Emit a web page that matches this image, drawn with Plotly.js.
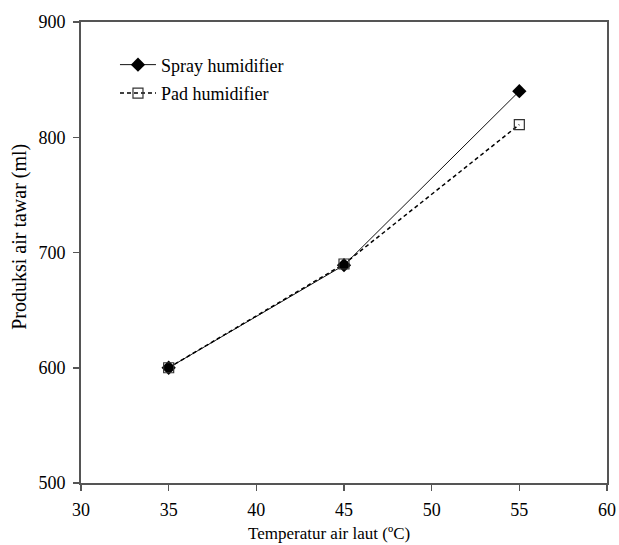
<!DOCTYPE html>
<html>
<head>
<meta charset="utf-8">
<script src="https://cdn.plot.ly/plotly-3.0.1.min.js"></script>
<style>
  html, body { margin: 0; padding: 0; background: #fff; }
  #chart { width: 619px; height: 545px; }
</style>
</head>
<body>
<div id="chart"></div>
<script>
// Sea-water temperature (°C) and fresh-water output (ml) for two humidifier types
const temperature = [35, 45, 55];
const sprayOutput = [600, 689, 840];
const padOutput = [600, 690, 811];

const seriesNames = ['Spray humidifier', 'Pad humidifier'];
const xTicks = [30, 35, 40, 45, 50, 55, 60];
const yTicks = [500, 600, 700, 800, 900];
const xTitle = 'Temperatur air laut (ºC)';
const yTitle = 'Produksi air tawar (ml)';

const serif = '"Liberation Serif", "Times New Roman", serif';
const axisColor = '#555555';

const traces = [
  {
    x: temperature, y: sprayOutput, name: seriesNames[0], legendgroup: 'a',
    type: 'scatter', mode: 'lines+markers',
    line: { color: '#111111', width: 1 },
    marker: { symbol: 'diamond', size: 11, color: '#000000', line: { color: '#000000', width: 0 } }
  },
  {
    x: temperature, y: padOutput, name: seriesNames[1], legendgroup: 'b',
    type: 'scatter', mode: 'lines+markers',
    line: { color: '#000000', width: 1.5, dash: '4px,3px' },
    marker: { symbol: 'square-open', size: 10, color: '#333333', line: { width: 1.2 } }
  }
];

const layout = {
  width: 619, height: 545,
  margin: { l: 81, r: 12, t: 22, b: 62 },
  paper_bgcolor: '#ffffff', plot_bgcolor: '#ffffff',
  font: { family: serif, color: '#000000', size: 17 },
  showlegend: true,
  legend: {
    x: 0.0646, y: 0.947, xanchor: 'left', yanchor: 'top',
    bgcolor: 'rgba(0,0,0,0)', borderwidth: 0,
    font: { family: serif, size: 18, color: '#000000' },
    tracegroupgap: 2, itemwidth: 36
  },
  xaxis: {
    range: [30, 60], tickvals: xTicks, ticktext: xTicks.map(String),
    showgrid: false, zeroline: false,
    showline: true, linecolor: axisColor, linewidth: 2, mirror: true,
    ticks: 'outside', ticklen: 6, tickwidth: 1.5, tickcolor: axisColor,
    ticklabelstandoff: 3,
    tickfont: { family: serif, size: 18, color: '#000000' }
  },
  yaxis: {
    range: [500, 900], tickvals: yTicks, ticktext: yTicks.map(String),
    showgrid: false, zeroline: false,
    showline: true, linecolor: axisColor, linewidth: 2, mirror: true,
    ticks: 'outside', ticklen: 6, tickwidth: 1.5, tickcolor: axisColor,
    ticklabelstandoff: 4,
    tickfont: { family: serif, size: 18, color: '#000000' }
  },
  // axis titles placed as paper annotations so they can sit slightly off-centre
  annotations: [
    {
      text: xTitle, xref: 'paper', yref: 'paper', x: 0.4715, y: -0.1085,
      xanchor: 'center', yanchor: 'middle', showarrow: false,
      font: { family: serif, size: 17, color: '#000000' }
    },
    {
      text: yTitle, xref: 'paper', yref: 'paper', x: -0.116, y: 0.534,
      xanchor: 'center', yanchor: 'middle', showarrow: false, textangle: -90,
      font: { family: serif, size: 20, color: '#000000' }
    }
  ]
};

Plotly.newPlot('chart', traces, layout, { displayModeBar: false, staticPlot: true });
</script>
</body>
</html>
